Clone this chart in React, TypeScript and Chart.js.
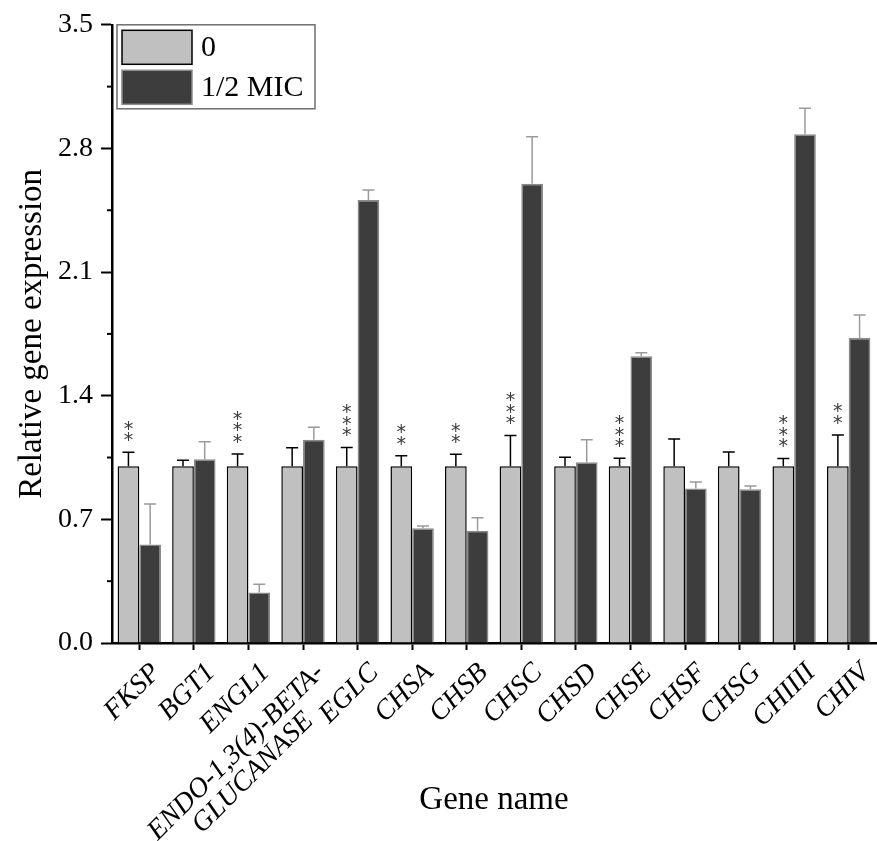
import React, { useEffect, useRef } from "react";
import { Chart, registerables } from "chart.js";

Chart.register(...registerables);

const genes: (string | string[])[] = [
  "FKSP", "BGT1", "ENGL1", ["ENDO-1,3(4)-BETA-", "GLUCANASE"], "EGLC", "CHSA", "CHSB",
  "CHSC", "CHSD", "CHSE", "CHSF", "CHSG", "CHIIII", "CHIV",
];
const seriesNames = ["0", "1/2 MIC"];
const control = [1, 1, 1, 1, 1, 1, 1, 1, 1, 1, 1, 1, 1, 1];
const controlErr = [0.08, 0.035, 0.07, 0.105, 0.107, 0.06, 0.068, 0.175, 0.052, 0.046, 0.155, 0.082, 0.045, 0.178];
const mic = [0.557, 1.04, 0.286, 1.151, 2.508, 0.65, 0.636, 2.6, 1.024, 1.623, 0.875, 0.871, 2.881, 1.727];
const micErr = [0.23, 0.1, 0.047, 0.07, 0.057, 0.013, 0.073, 0.266, 0.127, 0.02, 0.037, 0.018, 0.147, 0.13];
const stars = ["**", "", "***", "", "***", "**", "**", "***", "", "***", "", "", "***", "**"];
const yTicks = [0, 0.7, 1.4, 2.1, 2.8, 3.5];
const yMinorTicks = [0.35, 1.05, 1.75, 2.45, 3.15];

const SERIF = "'Liberation Serif', 'Times New Roman', serif";
const GRAY = "#c0c0c0";
const DARK = "#3d3d3d";

const errors = [controlErr, micErr];
const errColors = ["#000000", "#9a9a9a"];

const overlayPlugin = {
  id: "overlay",
  afterDatasetsDraw(chart: any) {
    const ctx = chart.ctx;
    const yScale = chart.scales.y;
    const values = [control, mic];
    ctx.save();
    for (let d = 0; d < 2; d++) {
      const meta = chart.getDatasetMeta(d);
      meta.data.forEach((bar: any, i: number) => {
        const top = yScale.getPixelForValue(values[d][i]);
        const errTop = yScale.getPixelForValue(values[d][i] + errors[d][i]);
        ctx.strokeStyle = errColors[d];
        ctx.lineWidth = 1.5;
        ctx.beginPath();
        ctx.moveTo(bar.x, top);
        ctx.lineTo(bar.x, errTop);
        ctx.moveTo(bar.x - 6, errTop);
        ctx.lineTo(bar.x + 6, errTop);
        ctx.stroke();
      });
    }
    const meta0 = chart.getDatasetMeta(0);
    ctx.fillStyle = "#3a3a3a";
    ctx.font = `19px 'DejaVu Sans', sans-serif`;
    ctx.textAlign = "center";
    ctx.textBaseline = "middle";
    meta0.data.forEach((bar: any, i: number) => {
      const s = stars[i];
      if (!s) return;
      const errTop = yScale.getPixelForValue(control[i] + controlErr[i]);
      for (let k = 0; k < s.length; k++) {
        const cy = errTop - 15 - k * 11.5;
        ctx.fillText("*", bar.x, cy + 4);
      }
    });
    ctx.restore();
  },
  afterDraw(chart: any) {
    const ctx = chart.ctx;
    const yScale = chart.scales.y;
    const left = chart.chartArea.left;
    ctx.save();
    ctx.strokeStyle = "#000";
    ctx.lineWidth = 2;
    yMinorTicks.forEach((v) => {
      const y = yScale.getPixelForValue(v);
      ctx.beginPath();
      ctx.moveTo(left - 5, y);
      ctx.lineTo(left, y);
      ctx.stroke();
    });
    const lx = left + 5;
    const ly = chart.chartArea.top;
    ctx.fillStyle = "#ffffff";
    ctx.fillRect(lx, ly, 198, 84);
    ctx.strokeStyle = "#6e6e6e";
    ctx.lineWidth = 1.5;
    ctx.strokeRect(lx, ly, 198, 84);
    const fills = [GRAY, DARK];
    const borders = ["#000000", "#8a8a8a"];
    ctx.font = `30px ${SERIF}`;
    ctx.textAlign = "left";
    ctx.textBaseline = "middle";
    for (let d = 0; d < 2; d++) {
      const sy = ly + 5.5 + d * 40;
      ctx.fillStyle = fills[d];
      ctx.fillRect(lx + 5, sy, 70, 34);
      ctx.strokeStyle = borders[d];
      ctx.lineWidth = 1.5;
      ctx.strokeRect(lx + 5, sy, 70, 34);
      ctx.fillStyle = "#000";
      ctx.fillText(seriesNames[d], lx + 84, sy + 18);
    }
    ctx.restore();
  },
};

export default function App() {
  const ref = useRef<HTMLCanvasElement | null>(null);
  useEffect(() => {
    document.body.style.margin = "0";
    const canvas = ref.current!;
    const chart = new Chart(canvas, {
      type: "bar",
      data: {
        labels: genes as any,
        datasets: [
          {
            label: seriesNames[0],
            data: control,
            backgroundColor: GRAY,
            borderColor: "#000000",
            borderWidth: 1.5,
            borderSkipped: "bottom",
          },
          {
            label: seriesNames[1],
            data: mic,
            backgroundColor: DARK,
            borderColor: "#8a8a8a",
            borderWidth: 1.5,
            borderSkipped: "bottom",
          },
        ],
      },
      options: {
        responsive: false,
        animation: false,
        layout: { padding: { top: 24, right: 1, left: 0, bottom: 0 } },
        datasets: { bar: { barPercentage: 1, categoryPercentage: 0.795 } },
        plugins: { legend: { display: false }, tooltip: { enabled: false } },
        scales: {
          x: {
            grid: {
              offset: false,
              drawOnChartArea: false,
              drawTicks: true,
              tickLength: 7,
              tickWidth: 2,
              tickColor: "#000",
            },
            border: { display: true, color: "#000", width: 2.5 },
            ticks: {
              color: "#000",
              font: { family: SERIF, size: 28, style: "italic", lineHeight: 0.95 },
              maxRotation: 45,
              minRotation: 45,
              autoSkip: false,
              padding: 9,
              labelOffset: 17,
              callback: function (this: any, _v: any, i: number) {
                const g = genes[i];
                if (Array.isArray(g)) {
                  return [g[0], g[1] + "\u00a0".repeat(6)];
                }
                return g;
              },
            },
            title: {
              display: true,
              text: "Gene name",
              color: "#000",
              font: { family: SERIF, size: 33 },
              padding: { top: 0, bottom: 21 },
            },
            afterFit: (scale: any) => {
              scale.height = 198;
            },
          },
          y: {
            min: 0,
            max: 3.5,
            afterBuildTicks: (scale: any) => {
              scale.ticks = yTicks.map((v) => ({ value: v }));
            },
            grid: {
              drawOnChartArea: false,
              drawTicks: true,
              tickLength: 11,
              tickWidth: 2,
              tickColor: "#000",
            },
            border: { display: true, color: "#000", width: 2.5 },
            ticks: {
              color: "#000",
              font: { family: SERIF, size: 28 },
              padding: 8,
              callback: (v: any) => Number(v).toFixed(1),
            },
            title: {
              display: true,
              text: "Relative gene expression",
              color: "#000",
              font: { family: SERIF, size: 33 },
              padding: { top: 13, bottom: 0 },
            },
            afterFit: (scale: any) => {
              scale.width = 112;
            },
          },
        },
      },
      plugins: [overlayPlugin],
    });
    return () => chart.destroy();
  }, []);
  return <canvas ref={ref} width={877} height={841} style={{ display: "block" }} />;
}
